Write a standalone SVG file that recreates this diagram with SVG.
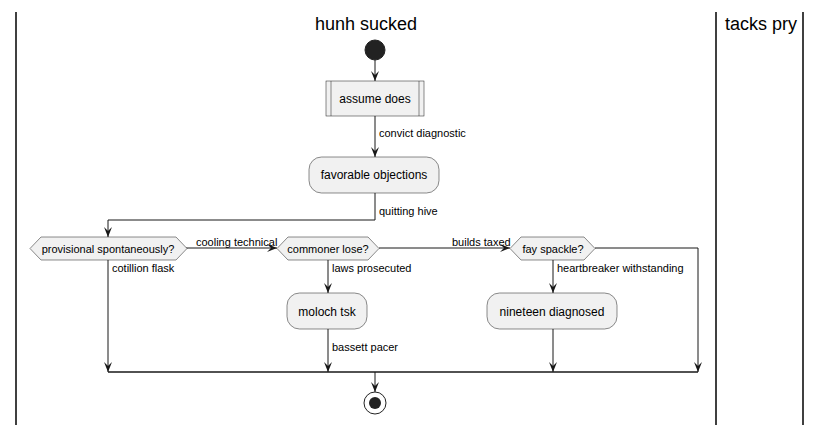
<svg xmlns="http://www.w3.org/2000/svg" width="822" height="425" viewBox="0 0 822 425">
<defs>
<style>
.lane{stroke:#000;stroke-width:1.5;fill:none}
.title{font-family:"Liberation Sans",Arial,sans-serif;font-size:18px;fill:#000}
.node{fill:#F1F1F1;stroke:#181818;stroke-width:0.5}
.ntext{font-family:"Liberation Sans",Arial,sans-serif;font-size:12px;fill:#000;text-anchor:middle}
.dtext{font-family:"Liberation Sans",Arial,sans-serif;font-size:11px;fill:#000;text-anchor:middle}
.ltext{font-family:"Liberation Sans",Arial,sans-serif;font-size:11px;fill:#000}
.edge{stroke:#181818;stroke-width:1;fill:none}
</style>
<marker id="ah" viewBox="0 0 10 8" refX="10" refY="4" markerWidth="10" markerHeight="8" orient="auto" markerUnits="userSpaceOnUse">
<path d="M0,0 L10,4 L0,8 L4,4 Z" fill="#181818"/>
</marker>
</defs>
<rect width="822" height="425" fill="#fff"/>
<g id="lanes">
<line class="lane" x1="16" y1="12" x2="16" y2="425"/>
<line class="lane" x1="716" y1="12" x2="716" y2="425"/>
<line class="lane" x1="803" y1="12" x2="803" y2="425"/>
<text class="title" x="366" y="30" text-anchor="middle">hunh sucked</text>
<text class="title" x="761" y="30" text-anchor="middle">tacks pry</text>
</g>
<g id="connectors">
<line class="edge" x1="375" y1="60" x2="375" y2="81" marker-end="url(#ah)"/>
<line class="edge" x1="375" y1="116" x2="375" y2="157" marker-end="url(#ah)"/>
<text class="ltext" x="379" y="137">convict diagnostic</text>
<polyline class="edge" points="375,193 375,220 108,220 108,237" marker-end="url(#ah)"/>
<text class="ltext" x="379" y="215">quitting hive</text>
<line class="edge" x1="186" y1="248" x2="277" y2="248" marker-end="url(#ah)"/>
<text class="ltext" x="196" y="246">cooling technical</text>
<line class="edge" x1="379" y1="248" x2="510" y2="248" marker-end="url(#ah)"/>
<text class="ltext" x="452" y="246">builds taxed</text>
<polyline class="edge" points="595,248 698,248 698,372" marker-end="url(#ah)"/>
<line class="edge" x1="108" y1="260" x2="108" y2="372" marker-end="url(#ah)"/>
<text class="ltext" x="112" y="272">cotillion flask</text>
<line class="edge" x1="328" y1="260" x2="328" y2="293" marker-end="url(#ah)"/>
<text class="ltext" x="332" y="272">laws prosecuted</text>
<line class="edge" x1="553" y1="260" x2="553" y2="293" marker-end="url(#ah)"/>
<text class="ltext" x="557" y="272">heartbreaker withstanding</text>
<line class="edge" x1="328" y1="329" x2="328" y2="372" marker-end="url(#ah)"/>
<text class="ltext" x="332" y="351">bassett pacer</text>
<line class="edge" x1="553" y1="329" x2="553" y2="372" marker-end="url(#ah)"/>
<line class="edge" x1="108" y1="372" x2="698" y2="372" style="stroke-width:1.5"/>
<line class="edge" x1="375" y1="372" x2="375" y2="392" marker-end="url(#ah)"/>
</g>
<g id="start">
<circle cx="375" cy="50" r="10" fill="#222" stroke="#222"/>
</g>
<g id="assume-does">
<rect class="node" x="326" y="81" width="98" height="35"/>
<line class="node" x1="331" y1="81" x2="331" y2="116"/>
<line class="node" x1="419" y1="81" x2="419" y2="116"/>
<text class="ntext" x="375" y="103">assume does</text>
</g>
<g id="favorable-objections">
<rect class="node" x="309" y="157" width="130" height="36" rx="12.5" ry="12.5"/>
<text class="ntext" x="374" y="179">favorable objections</text>
</g>
<g id="provisional-spontaneously">
<polygon class="node" points="30,248.5 41,237 176,237 187,248.5 176,260 41,260"/>
<text class="dtext" x="108" y="252.5">provisional spontaneously?</text>
</g>
<g id="commoner-lose">
<polygon class="node" points="277,248.5 288,237 368,237 379,248.5 368,260 288,260"/>
<text class="dtext" x="328" y="252.5">commoner lose?</text>
</g>
<g id="fay-spackle">
<polygon class="node" points="510,248.5 521,237 584,237 595,248.5 584,260 521,260"/>
<text class="dtext" x="553" y="252.5">fay spackle?</text>
</g>
<g id="moloch-tsk">
<rect class="node" x="287" y="293" width="80" height="36" rx="12.5" ry="12.5"/>
<text class="ntext" x="327" y="316">moloch tsk</text>
</g>
<g id="nineteen-diagnosed">
<rect class="node" x="487" y="293" width="130" height="36" rx="12.5" ry="12.5"/>
<text class="ntext" x="552" y="316">nineteen diagnosed</text>
</g>
<g id="end">
<circle cx="375" cy="403" r="11" fill="none" stroke="#222" stroke-width="1"/>
<circle cx="375" cy="403" r="6" fill="#222"/>
</g>
</svg>
